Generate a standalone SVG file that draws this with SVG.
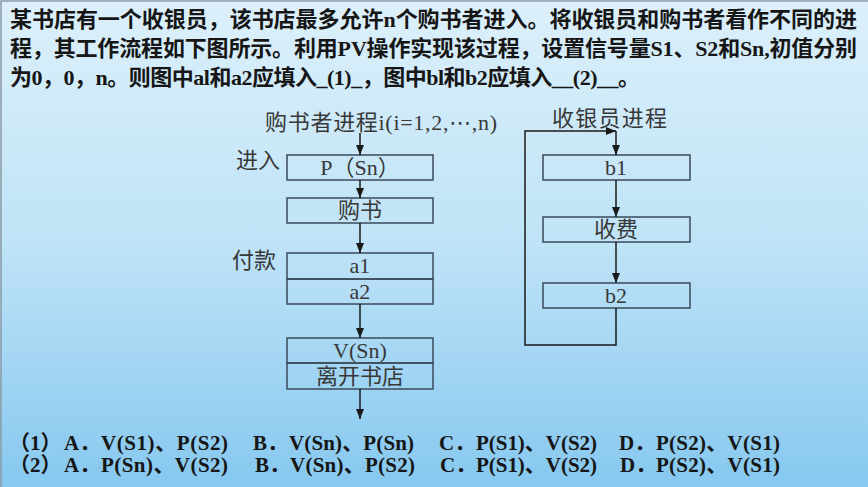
<svg xmlns="http://www.w3.org/2000/svg" width="868" height="487" viewBox="0 0 868 487">
<defs>
<linearGradient id="bg" x1="0" y1="0" x2="0" y2="1">
<stop offset="0" stop-color="#dcf0fa"/>
<stop offset="0.5" stop-color="#bfe3f7"/>
<stop offset="1" stop-color="#86c8ef"/>
</linearGradient>
<marker id="ah" markerUnits="userSpaceOnUse" markerWidth="11" markerHeight="9" refX="10" refY="4" orient="auto">
<path d="M0,0 L10,4 L0,8 Z" fill="#1a1a1a"/>
</marker>
<style>
.hd{font-family:"Liberation Serif","Noto Sans CJK SC",serif;font-weight:bold;font-size:22px;fill:#161616}
.an{font-family:"Liberation Serif","Noto Sans CJK SC",serif;font-weight:bold;font-size:21px;fill:#161616}
.lb{font-family:"Liberation Serif","Noto Sans CJK SC",serif;font-size:22px;fill:#383838}
.tt{font-family:"Liberation Serif","Noto Sans CJK SC",serif;font-size:22px;fill:#383838}
.dots{font-family:"DejaVu Sans","Noto Sans CJK SC",sans-serif}
.bx{fill:none;stroke:#3a4a5a;stroke-width:1.5}
.cn{fill:none;stroke:#1a1a1a;stroke-width:1.5}
</style>
</defs>
<rect x="0" y="0" width="868" height="487" fill="url(#bg)"/>
<path d="M1,487 V1 H868" fill="none" stroke="#8a9aa6" stroke-width="1.5"/>

<g id="header">
<text class="hd" x="10" y="27" textLength="847" lengthAdjust="spacing">某书店有一个收银员，该书店最多允许n个购书者进入。将收银员和购书者看作不同的进</text>
<text class="hd" x="10" y="56" textLength="847" lengthAdjust="spacing">程，其工作流程如下图所示。利用PV操作实现该过程，设置信号量S1、S2和Sn,初值分别</text>
<text class="hd" x="10" y="85" textLength="630" lengthAdjust="spacing">为0，0，n。则图中al和a2应填入_(1)_，图中bl和b2应填入__(2)__。</text>
</g>

<g id="buyer-title"><text class="tt" x="265" y="130" textLength="232" lengthAdjust="spacing">购书者进程i(i=1,2,<tspan class="dots">⋯</tspan>,n)</text></g>
<g id="cashier-title"><text class="tt" x="552" y="126" textLength="115" lengthAdjust="spacing">收银员进程</text></g>

<g id="label-enter"><text class="lb" x="236" y="168">进入</text></g>
<g id="label-pay"><text class="lb" x="232" y="268">付款</text></g>

<g id="node-psn"><rect class="bx" x="287" y="155" width="146" height="25"/><text class="lb" x="360" y="175" text-anchor="middle">P（Sn）</text></g>
<g id="node-buy"><rect class="bx" x="287" y="198" width="146" height="25"/><text class="lb" x="360" y="218" text-anchor="middle">购书</text></g>
<g id="node-a1"><rect class="bx" x="287" y="253" width="146" height="26"/><text class="lb" x="360" y="273" text-anchor="middle">a1</text></g>
<g id="node-a2"><rect class="bx" x="287" y="279" width="146" height="25"/><text class="lb" x="360" y="299" text-anchor="middle">a2</text></g>
<g id="node-vsn"><rect class="bx" x="287" y="338" width="146" height="25"/><text class="lb" x="360" y="358" text-anchor="middle">V(Sn)</text></g>
<g id="node-leave"><rect class="bx" x="287" y="363" width="146" height="26"/><text class="lb" x="360" y="384" text-anchor="middle">离开书店</text></g>

<g id="node-b1"><rect class="bx" x="543" y="155" width="147" height="25"/><text class="lb" x="616" y="175" text-anchor="middle">b1</text></g>
<g id="node-fee"><rect class="bx" x="543" y="217" width="147" height="25"/><text class="lb" x="616" y="237" text-anchor="middle">收费</text></g>
<g id="node-b2"><rect class="bx" x="543" y="283" width="147" height="25"/><text class="lb" x="616" y="303" text-anchor="middle">b2</text></g>

<g id="connectors">
<line class="cn" x1="360" y1="133" x2="360" y2="155" marker-end="url(#ah)"/>
<line class="cn" x1="360" y1="180" x2="360" y2="198" marker-end="url(#ah)"/>
<line class="cn" x1="360" y1="223" x2="360" y2="253" marker-end="url(#ah)"/>
<line class="cn" x1="360" y1="304" x2="360" y2="338" marker-end="url(#ah)"/>
<line class="cn" x1="360" y1="389" x2="360" y2="419" marker-end="url(#ah)"/>
<polyline class="cn" points="616,308 616,345 525,345 525,131 616,131" marker-end="url(#ah)"/>
<line class="cn" x1="616" y1="131" x2="616" y2="155" marker-end="url(#ah)"/>
<line class="cn" x1="616" y1="180" x2="616" y2="217" marker-end="url(#ah)"/>
<line class="cn" x1="616" y1="242" x2="616" y2="283" marker-end="url(#ah)"/>
</g>

<g id="answers">
<text class="an" x="9" y="450">（1）</text>
<text class="an" x="64" y="450">A．</text>
<text class="an" x="101" y="450" textLength="127" lengthAdjust="spacing">V(S1)、P(S2)</text>
<text class="an" x="253" y="450">B．</text>
<text class="an" x="289" y="450" textLength="125" lengthAdjust="spacing">V(Sn)、P(Sn)</text>
<text class="an" x="439" y="450">C．</text>
<text class="an" x="476" y="450" textLength="121" lengthAdjust="spacing">P(S1)、V(S2)</text>
<text class="an" x="619" y="450">D．</text>
<text class="an" x="656" y="450" textLength="124" lengthAdjust="spacing">P(S2)、V(S1)</text>

<text class="an" x="9" y="472">（2）</text>
<text class="an" x="64" y="472">A．</text>
<text class="an" x="101" y="472" textLength="127" lengthAdjust="spacing">P(Sn)、V(S2)</text>
<text class="an" x="255" y="472">B．</text>
<text class="an" x="290" y="472" textLength="125" lengthAdjust="spacing">V(Sn)、P(S2)</text>
<text class="an" x="440" y="472">C．</text>
<text class="an" x="476" y="472" textLength="121" lengthAdjust="spacing">P(S1)、V(S2)</text>
<text class="an" x="620" y="472">D．</text>
<text class="an" x="656" y="472" textLength="124" lengthAdjust="spacing">P(S2)、V(S1)</text>
</g>
</svg>
